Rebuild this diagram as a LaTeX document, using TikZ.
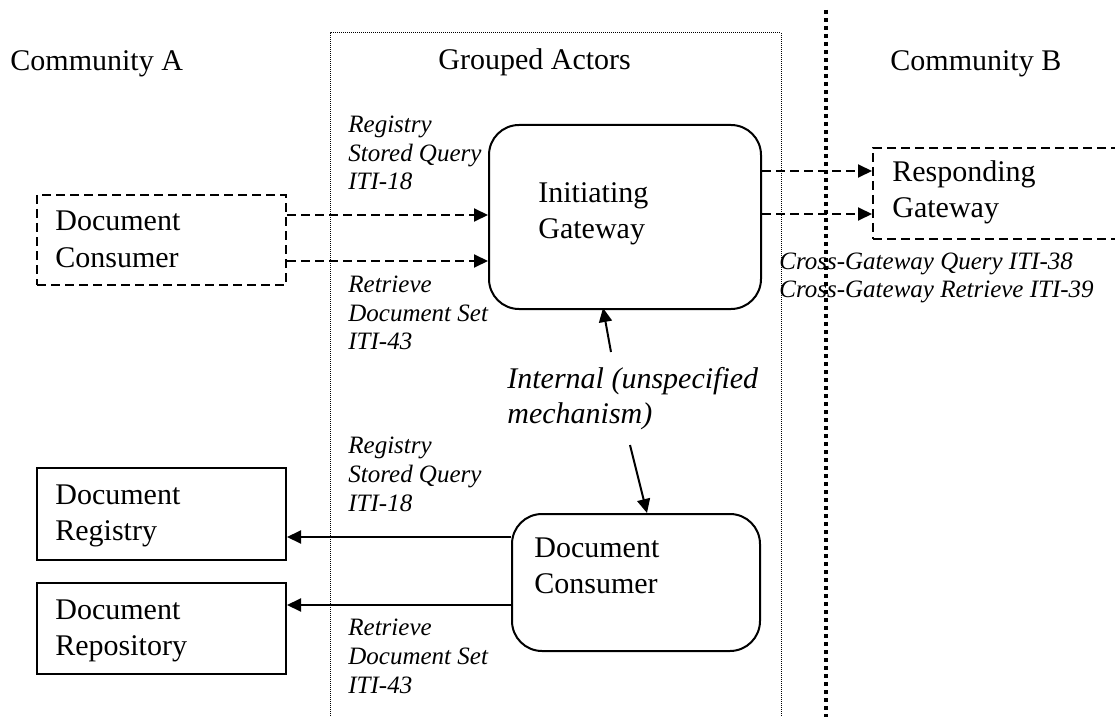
\documentclass[tikz,border=0pt]{standalone}
\usepackage{fontspec}
\setmainfont{Liberation Serif}
\usetikzlibrary{arrows.meta}
\tikzset{
  px/.style={x=0.5pt,y=-0.5pt},
  actor/.style={draw, line width=1pt, inner sep=0, anchor=north west},
  dashedactor/.style={actor, dash pattern=on 4.5pt off 2.5pt},
  roundactor/.style={actor, rounded corners=15pt},
  txt/.style={inner sep=0, anchor=base west, align=left, font=\fontsize{15pt}{18pt}\selectfont},
  lbl/.style={inner sep=0, anchor=base west, align=left, font=\fontsize{12.5pt}{14.3pt}\selectfont\itshape},
  biglbl/.style={inner sep=0, anchor=base west, align=left, font=\fontsize{15pt}{17.5pt}\selectfont\itshape},
  tip/.style={-{Triangle[length=7pt,width=6.5pt]}},
  msg/.style={tip, line width=1pt},
  dashmsg/.style={msg, dash pattern=on 4.5pt off 2.5pt},
  groupline/.style={line width=0.5pt, dash pattern=on 0.5pt off 0.5pt},
  border/.style={line width=2pt, dash pattern=on 2pt off 2pt}
}
\begin{document}
\begin{tikzpicture}[px]
\useasboundingbox (0,0) rectangle (1115,717);
\clip (0,0) rectangle (1115,717);

% group and community border
\draw[groupline] (330,730) -- (330,33) -- (781,33) -- (781,730);
\draw[border] (826,10) -- (826,720);

% headings
\node[txt] (comA) at (10,71) {Community A};
\node[txt] (grp) at (438,70) {Grouped Actors};
\node[txt] (comB) at (890,71) {Community B};

% actors (multi-line text nodes are placed by the baseline of their last line)
\node[dashedactor, minimum width=124.5pt, minimum height=45pt] (dc) at (36,194) {};
\node[txt] (dct) at (55,267) {Document\\Consumer};

\node[roundactor, minimum width=136pt, minimum height=92pt] (ig) at (488,124) {};
\node[txt] (igt) at (538,239) {Initiating\\Gateway};

\node[dashedactor, minimum width=130pt, minimum height=45.5pt] (rg) at (872,147) {};
\node[txt] (rgt) at (892,218) {Responding\\Gateway};

\node[actor, minimum width=124.5pt, minimum height=46pt] (reg) at (36,467) {};
\node[txt] (regt) at (55,540) {Document\\Registry};

\node[actor, minimum width=124.5pt, minimum height=45.5pt] (rep) at (36,582) {};
\node[txt] (rept) at (55,655) {Document\\Repository};

\node[roundactor, minimum width=124pt, minimum height=68.5pt] (lc) at (511,513) {};
\node[txt] (lct) at (534,593) {Document\\Consumer};

% transaction labels
\node[lbl] (l1) at (348,190) {Registry\\Stored Query\\ITI-18};
\node[lbl] (l2) at (348,350) {Retrieve\\Document Set\\ITI-43};
\node[lbl] (l3) at (348,511) {Registry\\Stored Query\\ITI-18};
\node[lbl] (l4) at (348,693) {Retrieve\\Document Set\\ITI-43};
\node[lbl] (l5) at (779,298) {Cross-Gateway Query ITI-38\\Cross-Gateway Retrieve ITI-39};
\node[biglbl] (int) at (507,423) {Internal (unspecified\\mechanism)};

% connector helpers
\coordinate (y1) at (0,215);
\coordinate (y2) at (0,261);
\coordinate (y3) at (0,171);
\coordinate (y4) at (0,214);
\coordinate (y5) at (0,537);
\coordinate (y6) at (0,605);
\coordinate (upstart) at (611,352);
\coordinate (upend) at (603,308);
\coordinate (dnstart) at (630,445);
\coordinate (dnend) at (647,513);

% connectors
\draw[dashmsg] (dc.east |- y1) -- (ig.west |- y1);
\draw[dashmsg] (dc.east |- y2) -- (ig.west |- y2);
\draw[dashmsg] (ig.east |- y3) -- (rg.west |- y3);
\draw[dashmsg] (ig.east |- y4) -- (rg.west |- y4);
\draw[msg] (lc.west |- y5) -- (reg.east |- y5);
\draw[msg] (lc.west |- y6) -- (rep.east |- y6);
\draw[msg] (upstart) -- (upend);
\draw[msg] (dnstart) -- (dnend);
\end{tikzpicture}
\end{document}
